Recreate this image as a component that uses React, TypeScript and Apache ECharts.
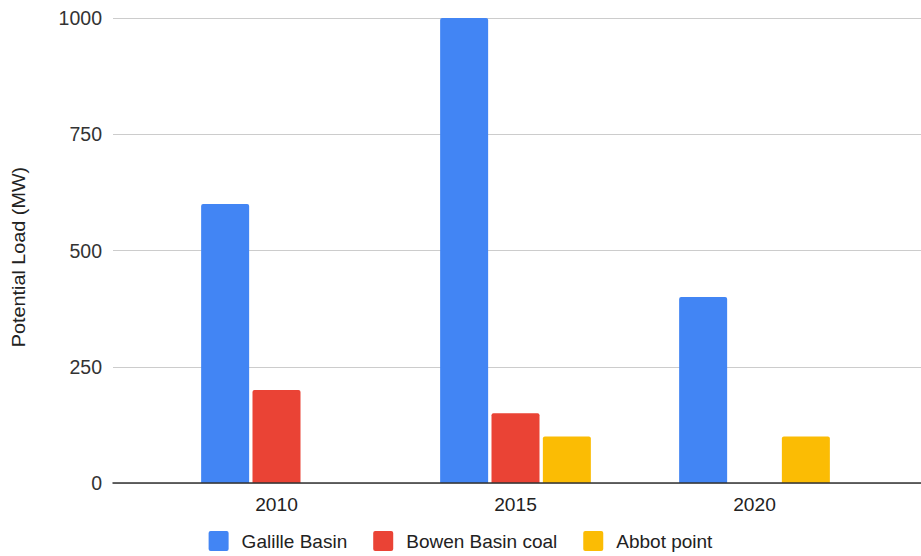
import React, { useEffect, useRef } from "react";
import * as echarts from "echarts";

const categories = ["2010", "2015", "2020"];
const galilleBasin = [600, 1000, 400];
const bowenBasinCoal: (number | null)[] = [200, 150, null];
const abbotPoint: (number | null)[] = [null, 100, 100];
const yTicks = { min: 0, max: 1000, interval: 250 };
const seriesNames = ["Galille Basin", "Bowen Basin coal", "Abbot point"];
const colors = ["#4285F4", "#EA4335", "#FBBC04"];

const FONT = "Arial, 'Liberation Sans', sans-serif";
const ICON = "path://M2,0 H18 Q20,0 20,2 V18 Q20,20 18,20 H2 Q0,20 0,18 V2 Q0,0 2,0 Z";

export default function App() {
  const ref = useRef<HTMLDivElement>(null);
  useEffect(() => {
    if (!ref.current) return;
    const chart = echarts.init(ref.current, undefined, { renderer: "svg" });
    const barStyle = (c: string) => ({ color: c, borderRadius: [2, 2, 0, 0] });
    chart.setOption({
      animation: false,
      backgroundColor: "#ffffff",
      textStyle: { fontFamily: FONT },
      grid: [
        { left: 113, right: 0, top: 18, bottom: 73 },
        { left: 157, right: 47, top: 18, bottom: 73 },
      ],
      xAxis: [
        {
          gridIndex: 0,
          type: "value",
          min: 0,
          max: 1,
          axisLine: { show: true, lineStyle: { color: "#333", width: 1.5 } },
          axisTick: { show: false },
          axisLabel: { show: false },
          splitLine: { show: false },
          z: 5,
        },
        {
          gridIndex: 1,
          type: "category",
          data: categories,
          axisLine: { show: false },
          axisTick: { show: false },
          axisLabel: { color: "#222", fontSize: 19.2, fontFamily: FONT, margin: 12 },
        },
      ],
      yAxis: [
        {
          gridIndex: 0,
          type: "value",
          min: yTicks.min,
          max: yTicks.max,
          interval: yTicks.interval,
          axisLine: { show: false },
          axisTick: { show: false },
          axisLabel: {
            color: "#333",
            fontSize: 19.5,
            fontFamily: FONT,
            margin: 11,
            formatter: (v: number) => String(v),
          },
          splitLine: { lineStyle: { color: "#cccccc", width: 1 } },
        },
        {
          gridIndex: 1,
          type: "value",
          min: yTicks.min,
          max: yTicks.max,
          interval: yTicks.interval,
          show: false,
          splitLine: { show: false },
        },
      ],
      legend: {
        bottom: 0,
        left: "center",
        itemWidth: 20,
        itemHeight: 20,
        itemGap: 26,
        icon: ICON,
        data: seriesNames,
        textStyle: { color: "#222", fontSize: 19, fontFamily: FONT, padding: [0, 0, 0, 8] },
      },
      graphic: [
        {
          type: "text",
          x: 19,
          y: 257,
          rotation: Math.PI / 2,
          scaleX: 1.1,
          style: {
            text: "Potential Load (MW)",
            fill: "#222",
            fontSize: 18,
            fontFamily: FONT,
            align: "center",
            verticalAlign: "middle",
          },
        },
      ],
      series: [
        {
          name: seriesNames[0],
          type: "bar",
          xAxisIndex: 1,
          yAxisIndex: 1,
          data: galilleBasin,
          barWidth: 48,
          barGap: "7%",
          itemStyle: barStyle(colors[0]),
        },
        {
          name: seriesNames[1],
          type: "bar",
          xAxisIndex: 1,
          yAxisIndex: 1,
          data: bowenBasinCoal,
          barWidth: 48,
          barGap: "7%",
          itemStyle: barStyle(colors[1]),
        },
        {
          name: seriesNames[2],
          type: "bar",
          xAxisIndex: 1,
          yAxisIndex: 1,
          data: abbotPoint,
          barWidth: 48,
          barGap: "7%",
          itemStyle: barStyle(colors[2]),
        },
      ],
    });
    return () => chart.dispose();
  }, []);
  return <div ref={ref} style={{ width: 921, height: 556, position: "fixed", left: 0, top: 0 }} />;
}
